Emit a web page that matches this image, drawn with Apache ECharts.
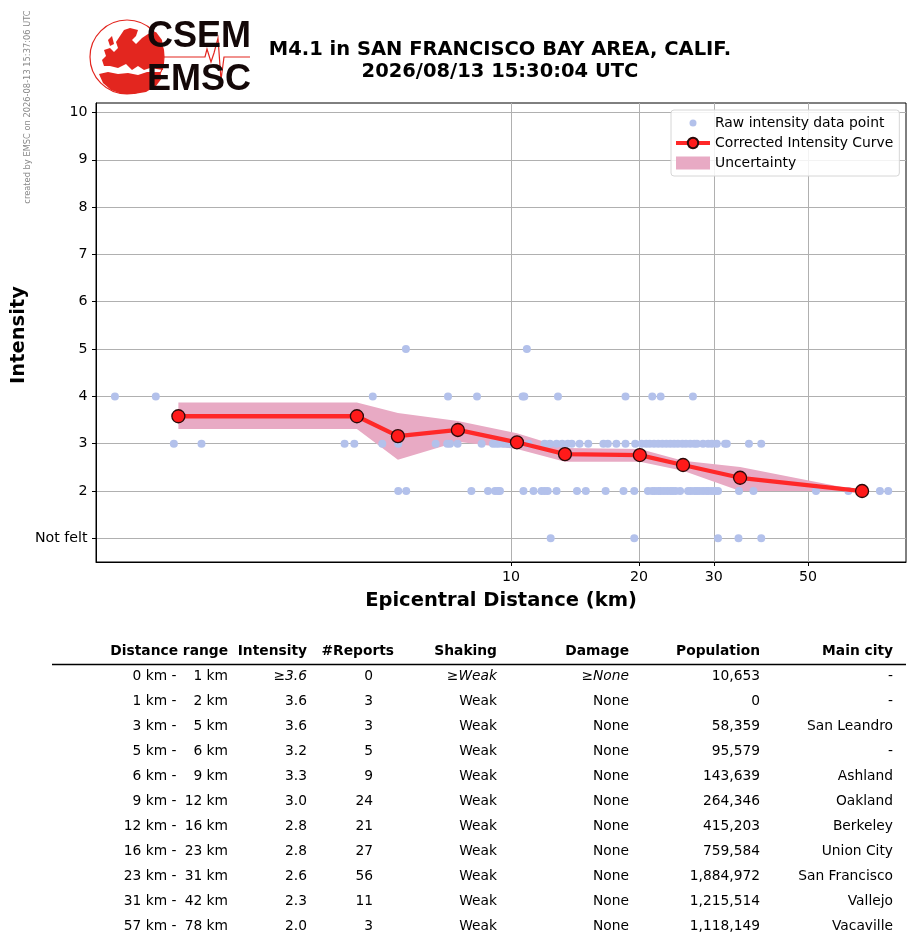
<!DOCTYPE html>
<html>
<head>
<meta charset="utf-8">
<title>EMSC intensity</title>
<script src="https://cdn.jsdelivr.net/npm/echarts@6/dist/echarts.min.js"></script>
<style>
  html, body { margin: 0; padding: 0; background: #fff; }
  #chart { width: 915px; height: 949px; }
</style>
</head>
<body>
<div id="chart"></div>
<script>
// raw reports, grouped by intensity level (distance in km)
const rawNotFelt = [12.4, 19.5, 30.7, 34.3, 38.8];
const rawLevel2 = [5.43, 5.67, 8.07, 8.83, 9.17, 9.32, 9.42, 10.7, 11.3, 11.8, 12.0, 12.2, 12.8,
  14.3, 15.0, 16.7, 18.4, 19.5, 21.0, 21.5, 21.8, 22.2, 22.5, 22.9, 23.3, 23.7, 24.05, 24.4, 25.0,
  26.1, 26.5, 27.0, 27.4, 27.8, 28.3, 28.8, 29.2, 29.7, 30.2, 30.7, 34.4, 37.2, 52.2, 62.2, 66.9,
  73.8, 77.2];
const rawLevel3 = [1.61, 1.87, 4.06, 4.28, 4.98, 5.43, 6.65, 7.08, 7.19, 7.49, 8.53, 9.07, 9.22,
  9.37, 9.58, 9.79, 9.95, 10.4, 11.0, 12.0, 12.35, 12.8, 13.2, 13.6, 13.9, 14.5, 15.2, 16.5, 16.9,
  17.7, 18.6, 19.6, 20.3, 20.8, 21.2, 21.7, 22.2, 22.7, 23.2, 23.7, 24.2, 24.7, 25.3, 25.8, 26.4,
  27.0, 27.4, 28.3, 29.1, 29.7, 30.5, 31.9, 32.2, 36.3, 38.8];
const rawLevel4 = [1.17, 1.46, 4.73, 7.11, 8.32, 10.65, 10.75, 12.9, 18.6, 21.5, 22.5, 26.8];
const rawLevel5 = [5.66, 10.9];

// corrected curve and its uncertainty band
const curveDist = [1.65, 4.34, 5.42, 7.50, 10.33, 13.4, 20.1, 25.4, 34.6, 67.0];
const curveIntensity = [3.58, 3.58, 3.16, 3.29, 3.03, 2.78, 2.76, 2.55, 2.28, 2.0];
const bandUpper = [3.87, 3.87, 3.65, 3.48, 3.22, 2.91, 2.89, 2.64, 2.51, 2.0];
const bandLower = [3.31, 3.31, 2.66, 3.04, 2.89, 2.62, 2.62, 2.43, 2.0, 2.0];

const xTicks = [10, 20, 30, 50];
const yTicks = [1, 2, 3, 4, 5, 6, 7, 8, 9, 10];

// summary table
const tableHeader = ['Distance range', 'Intensity', '#Reports', 'Shaking', 'Damage', 'Population', 'Main city'];
const rangeFrom = [0, 1, 3, 5, 6, 9, 12, 16, 23, 31, 57];
const rangeTo = [1, 2, 5, 6, 9, 12, 16, 23, 31, 42, 78];
const intensityCol = ['≥3.6', '3.6', '3.6', '3.2', '3.3', '3.0', '2.8', '2.8', '2.6', '2.3', '2.0'];
const reportsCol = [0, 3, 3, 5, 9, 24, 21, 27, 56, 11, 3];
const shakingCol = ['≥Weak', 'Weak', 'Weak', 'Weak', 'Weak', 'Weak', 'Weak', 'Weak', 'Weak', 'Weak', 'Weak'];
const damageCol = ['≥None', 'None', 'None', 'None', 'None', 'None', 'None', 'None', 'None', 'None', 'None'];
const populationCol = ['10,653', '0', '58,359', '95,579', '143,639', '264,346', '415,203', '759,584',
  '1,884,972', '1,215,514', '1,118,149'];
const cityCol = ['-', '-', 'San Leandro', '-', 'Ashland', 'Oakland', 'Berkeley', 'Union City',
  'San Francisco', 'Vallejo', 'Vacaville'];

const FONT = 'DejaVu Sans';
const bandColor = '#e8aac4';
const dotColor = '#b3c1eb';
const logoRed = '#e3261f';

function rawPoints() {
  const out = [];
  rawNotFelt.forEach(d => out.push([d, 1]));
  rawLevel2.forEach(d => out.push([d, 2]));
  rawLevel3.forEach(d => out.push([d, 3]));
  rawLevel4.forEach(d => out.push([d, 4]));
  rawLevel5.forEach(d => out.push([d, 5]));
  return out;
}

// table + header texts as graphic elements
function txt(x, y, s, opts) {
  opts = opts || {};
  return {
    type: 'text', x: x, y: y, silent: true,
    style: {
      text: s, align: opts.align || 'right', verticalAlign: 'middle',
      fontFamily: opts.family || FONT, fontSize: opts.size || 13.8,
      fontWeight: opts.weight || 'normal', fontStyle: opts.style || 'normal',
      fill: opts.color || '#000'
    }
  };
}

function land(points) {
  return { type: 'polygon', silent: true, shape: { points: points }, style: { fill: logoRed } };
}

function buildGraphics() {
  const g = [];
  // logo
  g.push({
    type: 'circle', shape: { cx: 127, cy: 57, r: 37 }, silent: true,
    style: { fill: 'none', stroke: logoRed, lineWidth: 1.2 }
  });
  // africa
  g.push(land([[99, 74], [108, 72], [118, 74], [128, 73], [138, 75], [147, 72], [160, 72], [162, 78],
    [156, 86], [146, 92], [134, 94], [122, 94], [111, 90], [103, 83]]));
  // europe + asia
  g.push(land([[104, 66], [102, 60], [106, 56], [104, 50], [110, 48], [114, 52], [118, 48], [116, 42],
    [120, 36], [124, 30], [130, 28], [138, 30], [136, 36], [132, 40], [136, 44], [142, 38], [148, 34],
    [156, 32], [162, 40], [164, 55], [163, 70], [150, 68], [144, 70], [138, 66], [132, 70], [126, 64],
    [118, 68], [110, 66]]));
  // british isles
  g.push(land([[108, 40], [112, 36], [114, 44], [110, 46]]));
  g.push({
    type: 'polyline', silent: true,
    shape: { points: [[163, 57], [205, 57], [207, 49], [211, 62], [214, 53], [218, 38], [221, 80], [224, 57], [250, 57]] },
    style: { stroke: logoRed, lineWidth: 1.2, fill: 'none' }
  });
  g.push(txt(147, 37, 'CSEM', { align: 'left', family: 'Liberation Sans', size: 36, weight: 'bold', color: '#140808' }));
  g.push(txt(147, 80, 'EMSC', { align: 'left', family: 'Liberation Sans', size: 36, weight: 'bold', color: '#140808' }));

  // side stamp
  g.push({
    type: 'text', x: 28, y: 107, rotation: Math.PI / 2, silent: true,
    style: { text: 'created by EMSC on 2026-08-13 15:37:06 UTC', align: 'center', verticalAlign: 'middle',
      fontFamily: FONT, fontSize: 8.3, fill: '#888' }
  });

  // title
  g.push(txt(500, 50, 'M4.1 in SAN FRANCISCO BAY AREA, CALIF.', { align: 'center', size: 19.5, weight: 'bold' }));
  g.push(txt(500, 72, '2026/08/13 15:30:04 UTC', { align: 'center', size: 19.5, weight: 'bold' }));

  // table
  const colRight = [228, 307, 394, 497, 629, 760, 893];
  tableHeader.forEach((h, i) => g.push(txt(colRight[i], 651, h, { weight: 'bold' })));
  g.push({
    type: 'line', silent: true, shape: { x1: 52, y1: 664.5, x2: 906, y2: 664.5 },
    style: { stroke: '#000', lineWidth: 1.3 }
  });
  rangeFrom.forEach((f, r) => {
    const y = 676 + r * 25;
    const it = r === 0 ? 'italic' : 'normal';
    g.push(txt(176.5, y, f + ' km -'));
    g.push(txt(228, y, rangeTo[r] + ' km'));
    g.push(txt(307, y, intensityCol[r], { style: it }));
    g.push(txt(373, y, String(reportsCol[r])));
    g.push(txt(497, y, shakingCol[r], { style: it }));
    g.push(txt(629, y, damageCol[r], { style: it }));
    g.push(txt(760, y, populationCol[r]));
    g.push(txt(893, y, cityCol[r]));
  });
  return g;
}

const chart = echarts.init(document.getElementById('chart'));
const option = {
  animation: false,
  backgroundColor: '#fff',
  grid: {
    left: 96, right: 9, top: 103, height: 459, outerBoundsMode: 'none', containLabel: false,
    show: true, borderColor: '#000', borderWidth: 1, backgroundColor: 'transparent'
  },
  legend: {
    left: 671, top: 110, orient: 'vertical',
    padding: [6, 6, 6, 3], itemGap: 6, itemWidth: 34, itemHeight: 13,
    backgroundColor: 'rgba(255,255,255,0.85)', borderColor: '#d6d6d6', borderWidth: 1, borderRadius: 3,
    textStyle: { fontFamily: FONT, fontSize: 13.9, color: '#000' },
    data: [
      { name: 'Raw intensity data point', icon: 'path://M0,0M34,0M34,13M0,13M13.5,6.5a3.5,3.5 0 1,0 7,0a3.5,3.5 0 1,0 -7,0Z' },
      { name: 'Corrected Intensity Curve', lineStyle: { width: 4, color: '#ff2828' } },
      { name: 'Uncertainty', icon: 'rect' }
    ]
  },
  xAxis: {
    type: 'log', logBase: 10, min: 1.056, max: 85,
    name: 'Epicentral Distance (km)', nameLocation: 'middle', nameGap: 29, nameMoveOverlap: false,
    nameTextStyle: { fontFamily: FONT, fontSize: 19.5, fontWeight: 'bold', color: '#000' },
    axisLine: { show: true, lineStyle: { color: '#000', width: 1 } },
    axisTick: { show: true, customValues: xTicks, length: 4, lineStyle: { color: '#000' } },
    axisLabel: { customValues: xTicks, fontFamily: FONT, fontSize: 14.2, color: '#000', margin: 8 },
    splitLine: { show: true, lineStyle: { color: '#b0b0b0', width: 1 } },
    minorTick: { show: false }, minorSplitLine: { show: false }
  },
  yAxis: {
    type: 'value', min: 0.5, max: 10.2,
    name: 'Intensity', nameLocation: 'middle', nameGap: 67, nameMoveOverlap: false,
    nameTextStyle: { fontFamily: FONT, fontSize: 19.5, fontWeight: 'bold', color: '#000', padding: [0, 5, 0, 0] },
    axisLine: { show: true, lineStyle: { color: '#000', width: 1 } },
    axisTick: { show: true, customValues: yTicks, length: 4, lineStyle: { color: '#000' } },
    axisLabel: {
      customValues: yTicks, fontFamily: FONT, fontSize: 14.2, color: '#000', margin: 8.5,
      formatter: v => (v === 1 ? 'Not felt' : String(v))
    },
    splitLine: { show: true, lineStyle: { color: '#b0b0b0', width: 1 } }
  },
  series: [
    {
      name: 'Uncertainty', type: 'custom', z: 1,
      itemStyle: { color: bandColor },
      data: curveDist.map((d, i) => [d, bandLower[i], bandUpper[i]]),
      encode: { x: 0, y: [1, 2] },
      renderItem: function (params, api) {
        if (params.dataIndex !== 0) return null;
        const pts = [];
        for (let i = 0; i < curveDist.length; i++) pts.push(api.coord([curveDist[i], bandUpper[i]]));
        for (let i = curveDist.length - 1; i >= 0; i--) pts.push(api.coord([curveDist[i], bandLower[i]]));
        return { type: 'polygon', shape: { points: pts }, style: { fill: bandColor } };
      }
    },
    {
      name: 'Raw intensity data point', type: 'scatter', z: 2,
      symbolSize: 8, itemStyle: { color: dotColor, opacity: 1 },
      data: rawPoints()
    },
    {
      name: 'Corrected Intensity Curve', type: 'line', z: 3,
      data: curveDist.map((d, i) => [d, curveIntensity[i]]),
      symbol: 'circle', symbolSize: 13,
      lineStyle: { color: '#ff2828', width: 4.3 },
      itemStyle: { color: '#ff1a1a', borderColor: '#2a0a0a', borderWidth: 1.3 }
    }
  ],
  graphic: buildGraphics()
};
chart.setOption(option);
</script>
</body>
</html>
